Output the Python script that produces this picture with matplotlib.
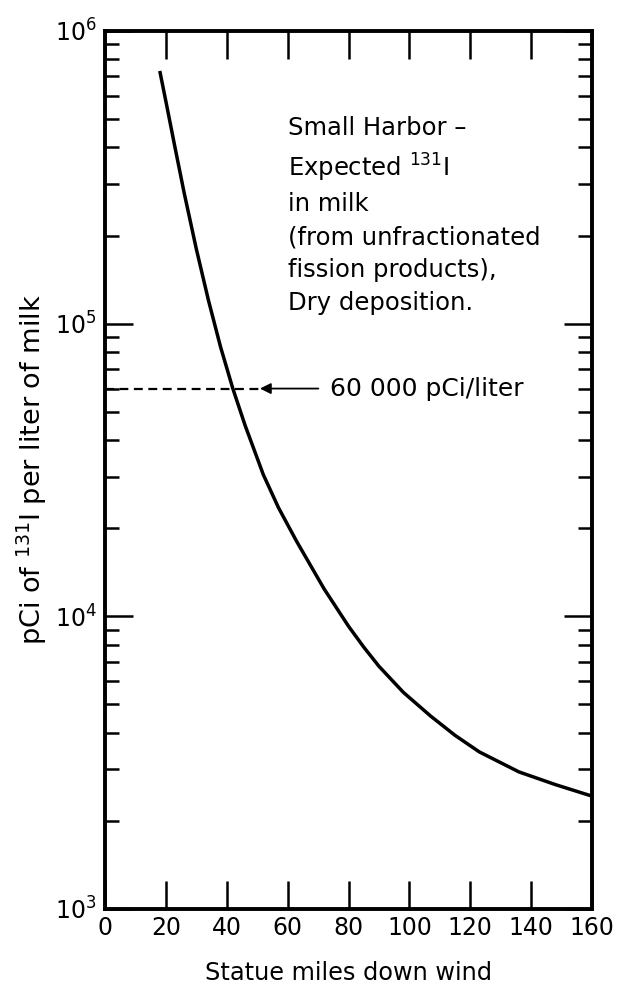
import numpy as np
import matplotlib.pyplot as plt
from matplotlib.ticker import LogLocator, NullFormatter, MultipleLocator

# Expected 131I in milk vs distance downwind
miles = [18, 20, 23, 26, 30, 34, 38, 42, 46, 52, 57, 63, 72, 80, 85, 90, 98, 107,
         115, 123, 136, 148, 160]
pci_per_liter = [7.3e5, 5.75e5, 4.0e5, 2.8e5, 1.8e5, 1.2e5, 8.3e4, 6.0e4, 4.5e4, 3.05e4,
                 2.35e4, 1.8e4, 1.24e4, 9.25e3, 7.85e3, 6.75e3, 5.5e3, 4.56e3,
                 3.92e3, 3.44e3, 2.94e3, 2.66e3, 2.43e3]

marker_level = 60000   # pCi/liter
marker_miles = 50      # where the arrow tip sits

plt.rcParams['font.family'] = 'DejaVu Sans'
plt.rcParams['mathtext.default'] = 'regular'

fig = plt.figure(figsize=(6.22, 9.89), dpi=100)
ax = fig.add_axes([0.1688, 0.0809, 0.7830, 0.8878])

ax.plot(miles, pci_per_liter, color='black', lw=2.5, solid_capstyle='butt')

ax.set_yscale('log')
ax.set_xlim(0, 160)
ax.set_ylim(1e3, 1e6)

# dashed reference line and arrow
ax.plot([0, marker_miles + 2], [marker_level, marker_level], color='black',
        lw=1.6, ls=(0, (4, 2.5)))
ax.annotate('', xy=(marker_miles, marker_level), xytext=(71, marker_level),
            arrowprops=dict(arrowstyle='-|>', color='black', lw=1.3,
                            mutation_scale=16))
ax.text(74, marker_level, '60 000 pCi/liter', fontsize=18, va='center', ha='left')

ax.text(60, 0.903, 'Small Harbor –\nExpected $^{131}$I\nin milk\n(from unfractionated\n'
        'fission products),\nDry deposition.', transform=ax.get_xaxis_transform(),
        fontsize=17.5, va='top', ha='left', linespacing=1.46)

ax.xaxis.set_major_locator(MultipleLocator(20))
ax.yaxis.set_major_locator(LogLocator(base=10, numticks=10))
ax.yaxis.set_minor_locator(LogLocator(base=10, subs=np.arange(2, 10), numticks=10))
ax.yaxis.set_minor_formatter(NullFormatter())

ax.tick_params(axis='both', which='major', direction='in', length=20, width=1.8,
               top=True, right=True, labelsize=17, pad=5)
ax.tick_params(axis='y', which='minor', direction='in', length=10, width=1.8,
               left=True, right=True)
ax.tick_params(axis='y', which='major', labelsize=17, pad=6)

for s in ax.spines.values():
    s.set_linewidth(2.8)

ax.set_xlabel('Statue miles down wind', fontsize=17.3, labelpad=15)
ax.set_ylabel('pCi of $^{131}$I per liter of milk', fontsize=19.5, labelpad=4)

fig.savefig('out.png', dpi=100)
